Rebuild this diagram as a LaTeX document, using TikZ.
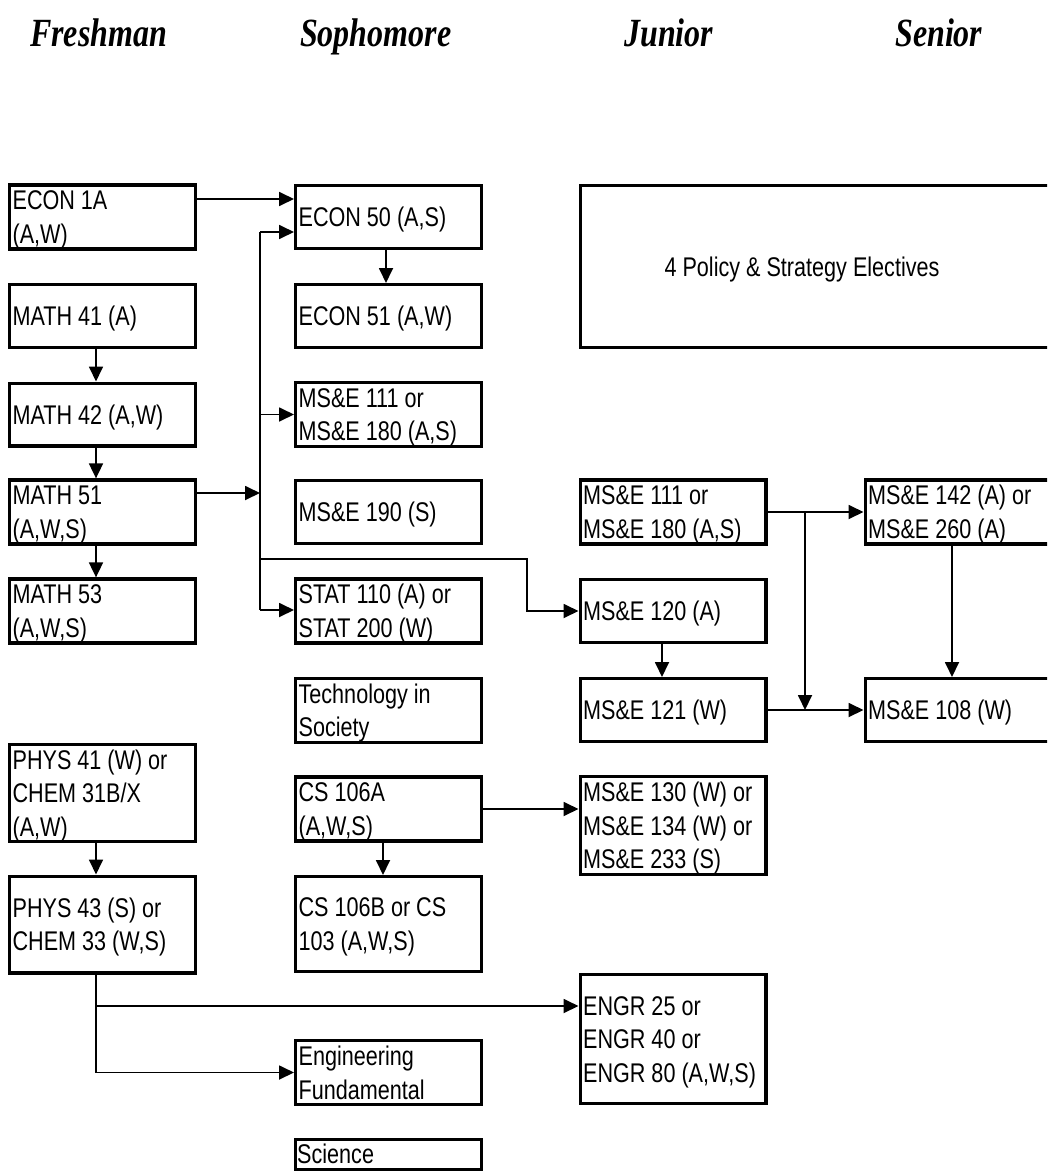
\documentclass[tikz,border=0pt]{standalone}
\usepackage{fontspec}
\setmainfont{Liberation Sans}[FakeStretch=0.8]
\newfontfamily\headfont{Liberation Serif}[FakeStretch=0.8]
\usetikzlibrary{arrows.meta}

\begin{document}
\begin{tikzpicture}[x=1pt,y=-1pt,
  course/.style={draw, line width=3.2pt, text width=179.8pt, inner xsep=3pt,
    inner ysep=0pt, align=flush left, font=\fontsize{27}{33.5}\selectfont,
    minimum height=#1,
    execute at begin node={\rule{0pt}{25pt}},
    execute at end node={\rule[-5pt]{0pt}{5pt}}},
  course/.default=62.8pt,
  head/.style={anchor=base west, inner sep=0pt,
    font=\headfont\bfseries\itshape\fontsize{40}{42}\selectfont},
  plain/.style={line width=1.8pt},
  link/.style={line width=1.8pt, -{Triangle[length=15pt,width=14pt]}}]

\useasboundingbox (0,0) rectangle (1047,1172);
\clip (0,0) rectangle (1047,1172);

% year headings
\node[head] (hfr) at (30,47) {Freshman};
\node[head] (hso) at (300,47) {Sophomore};
\node[head] (hju) at (624,47) {Junior};
\node[head] (hse) at (895,47) {Senior};

% freshman column
\node[course] (econ1a) at (102.5,217) {ECON 1A\\(A,W)};
\node[course] (math41) at (102.5,316) {MATH 41 (A)};
\node[course] (math42) at (102.5,414.5) {MATH 42 (A,W)};
\node[course] (math51) at (102.5,512) {MATH 51\\(A,W,S)};
\node[course] (math53) at (102.5,611) {MATH 53\\(A,W,S)};
\node[course=96.8pt] (phys41) at (102.5,793) {PHYS 41 (W) or\\CHEM 31B/X\\(A,W)};
\node[course=96.8pt] (phys43) at (102.5,924.5) {PHYS 43 (S) or\\CHEM 33 (W,S)};

% sophomore column
\node[course] (econ50) at (388.5,217) {ECON 50 (A,S)};
\node[course] (econ51) at (388.5,316) {ECON 51 (A,W)};
\node[course] (mse111s) at (388.5,414.5) {MS\&E 111 or\\MS\&E 180 (A,S)};
\node[course] (mse190) at (388.5,512) {MS\&E 190 (S)};
\node[course] (stat) at (388.5,611) {STAT 110 (A) or\\STAT 200 (W)};
\node[course=63.8pt] (tech) at (388.5,710.5) {Technology in\\Society};
\node[course] (cs106a) at (388.5,809) {CS 106A\\(A,W,S)};
\node[course=94.8pt] (cs106b) at (388.5,924) {CS 106B or CS\\103 (A,W,S)};
\node[course=63.8pt] (engfund) at (388.5,1072.5) {Engineering\\Fundamental};
\node[draw, line width=3.2pt, minimum width=185.8pt, minimum height=30pt,
  inner sep=0pt] (science) at (388.5,1154.5) {};
\node[anchor=base west, inner sep=0pt, font=\fontsize{27}{33.5}\selectfont]
  (sciencetext) at ([xshift=3pt,yshift=-9pt]science.west) {Science};

% junior column
\node[draw, line width=3.2pt, minimum width=469.8pt, minimum height=161.8pt,
  inner sep=0pt] (policy) at (815.5,266.5) {};
\node[inner sep=0pt, font=\fontsize{27}{33.5}\selectfont] (policytext)
  at (802,270) {4 Policy \& Strategy Electives};
\node[course] (mse111j) at (673,512) {MS\&E 111 or\\MS\&E 180 (A,S)};
\node[course] (mse120) at (673,611) {MS\&E 120 (A)};
\node[course] (mse121) at (673,710) {MS\&E 121 (W)};
\node[course=95.8pt] (mse130) at (673,825.5) {MS\&E 130 (W) or\\MS\&E 134 (W) or\\MS\&E 233 (S)};
\node[course=128.8pt] (engr) at (673,1039) {ENGR 25 or\\ENGR 40 or\\ENGR 80 (A,W,S)};

% senior column
\node[course] (mse142) at (958,512) {MS\&E 142 (A) or\\MS\&E 260 (A)};
\node[course] (mse108) at (958,710) {MS\&E 108 (W)};

% economics and mathematics sequence
\draw[link] ([yshift=18pt]econ1a.east) -- ([yshift=18pt]econ50.west);
\draw[link] ([xshift=-2.5pt]econ50.south) -- ([xshift=-2.5pt]econ51.north);
\draw[link] ([xshift=-6.5pt]math41.south) -- ([xshift=-6.5pt]math42.north);
\draw[link] ([xshift=-6.5pt]math42.south) -- ([xshift=-6.5pt]math51.north);
\draw[link] ([xshift=-6.5pt]math51.south) -- ([xshift=-6.5pt]math53.north);

% MATH 51 feeds a vertical bus on the left of the sophomore column
\coordinate (bustop) at (260,232);
\coordinate (busbot) at (260,610);
\coordinate (m51out) at ([yshift=19pt]math51.east);
\coordinate (jog) at (527,559);
\draw[plain] (bustop) -- (busbot);
\draw[link] (m51out) -- (m51out -| bustop);
\draw[link] (bustop) -- (bustop -| econ50.west);
\draw[link] (bustop |- mse111s.west) -- (mse111s.west);
\draw[link] (busbot) -- (busbot -| stat.west);
\draw[link] (bustop |- jog) -- (jog) -- (jog |- mse120.west) -- (mse120.west);

% junior and senior core
\coordinate (split) at (805,512);
\draw[link] (mse111j.east) -- (mse142.west);
\draw[link] (split) -- (split |- mse121.east);
\draw[link] (mse121.east) -- (mse108.west);
\draw[link] ([xshift=-11pt]mse120.south) -- ([xshift=-11pt]mse121.north);
\draw[link] ([xshift=-6pt]mse142.south) -- ([xshift=-6pt]mse108.north);

% science and computing
\draw[link] ([xshift=-6.5pt]phys41.south) -- ([xshift=-6.5pt]phys43.north);
\draw[link] ([xshift=-5.5pt]cs106a.south) -- ([xshift=-5.5pt]cs106b.north);
\draw[link] (cs106a.east) -- (cs106a.east -| mse130.west);

% PHYS 43 / CHEM 33 fork
\coordinate (fork) at ([xshift=-6.5pt]phys43.south);
\coordinate (engrin) at ([yshift=33pt]engr.west);
\draw[plain] (fork) -- (fork |- engfund.west);
\draw[link] (fork |- engfund.west) -- (engfund.west);
\draw[link] (fork |- engrin) -- (engrin);
\end{tikzpicture}
\end{document}
